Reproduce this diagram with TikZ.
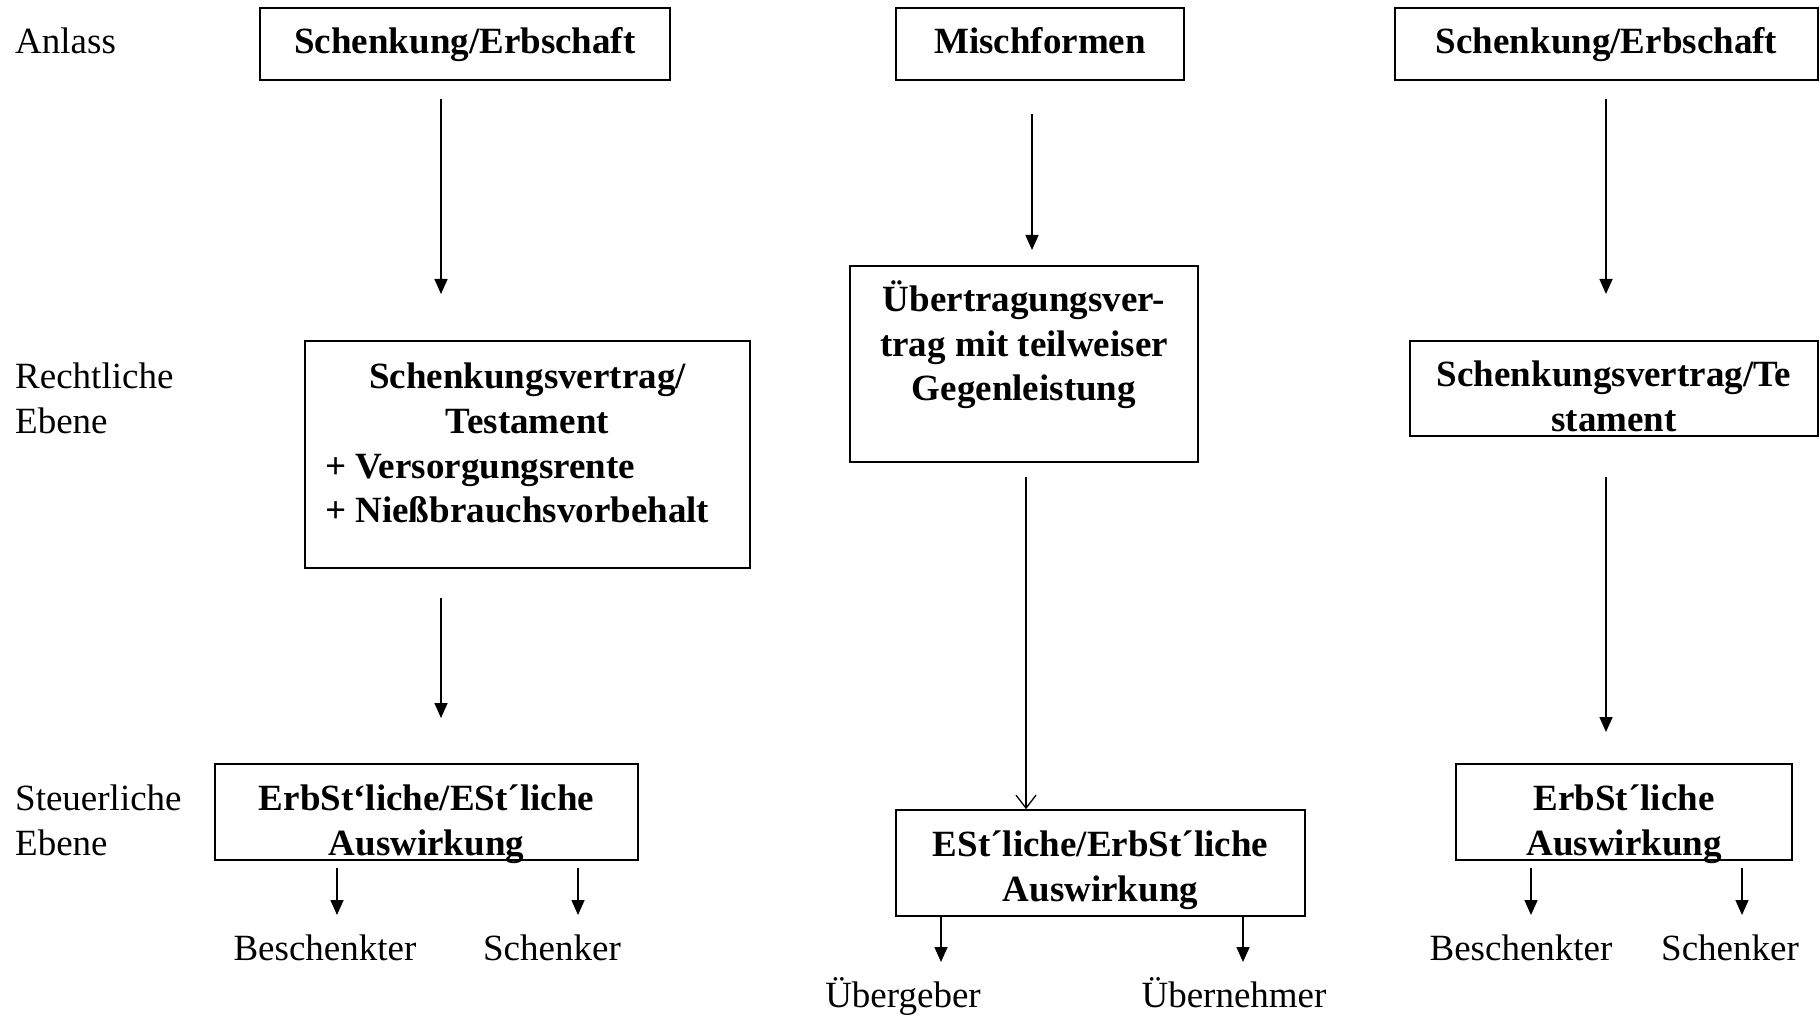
\documentclass[tikz,border=0pt]{standalone}
\usepackage{fontspec}
\setmainfont{Liberation Serif}
\usetikzlibrary{arrows.meta}
\begin{document}
\begin{tikzpicture}[x=1pt,y=-1pt,
  box/.style={draw, line width=1.6pt, inner sep=0pt},
  bt/.style={anchor=base, font=\fontsize{37}{42}\selectfont\bfseries, inner sep=0pt},
  btw/.style={anchor=base west, font=\fontsize{37}{42}\selectfont\bfseries, inner sep=0pt},
  pt/.style={anchor=base, font=\fontsize{37}{42}\selectfont, inner sep=0pt},
  ptw/.style={anchor=base west, font=\fontsize{37}{42}\selectfont, inner sep=0pt},
  arr/.style={line width=1.6pt, -{Triangle[length=15pt,width=13pt]}},
  arrv/.style={line width=1.3pt, -{Straight Barb[length=13pt,width=20pt]}}]
\useasboundingbox[fill=white] (0,0) rectangle (1820,1016);

% row labels
\node[ptw] (lAnlass) at (15,54) {Anlass};
\node[ptw] (lRecht1) at (15,388) {Rechtliche};
\node[ptw] (lRecht2) at (15,433) {Ebene};
\node[ptw] (lSteuer1) at (15,810) {Steuerliche};
\node[ptw] (lSteuer2) at (15,855) {Ebene};

% row 1
\node[box, minimum width=410, minimum height=72] (b1) at (465,44) {};
\node[bt] (t1) at (465,54) {Schenkung/Erbschaft};
\node[box, minimum width=288, minimum height=72] (b2) at (1040,44) {};
\node[bt] (t2) at (1040,54) {Mischformen};
\node[box, minimum width=423, minimum height=72] (b3) at (1606.5,44) {};
\node[bt] (t3) at (1606.5,54) {Schenkung/Erbschaft};

% row 2
\node[box, minimum width=445, minimum height=227] (r2L) at (527.5,454.5) {};
\node[bt] (r2La) at (527.5,388) {Schenkungsvertrag/};
\node[bt] (r2Lb) at (527.5,433) {Testament};
\node[btw] (r2Lc) at (325,478) {+ Versorgungsrente};
\node[btw] (r2Ld) at (325,522) {+ Nießbrauchsvorbehalt};

\node[box, minimum width=348, minimum height=196] (r2M) at (1024,364) {};
\node[bt] (r2Ma) at (1024,312) {Übertragungsver-};
\node[bt] (r2Mb) at (1024,356) {trag mit teilweiser};
\node[bt] (r2Mc) at (1024,400) {Gegenleistung};

\node[box, minimum width=408, minimum height=95] (r2R) at (1614,388.5) {};
\node[bt] (r2Ra) at (1614,386) {Schenkungsvertrag/Te};
\node[bt] (r2Rb) at (1614,431) {stament};

% row 3
\node[box, minimum width=423, minimum height=96] (r3L) at (426.5,812) {};
\node[bt] (r3La) at (426.5,810) {ErbSt‘liche/ESt´liche};
\node[bt] (r3Lb) at (426.5,855) {Auswirkung};

\node[box, minimum width=409, minimum height=106] (r3M) at (1100.5,863) {};
\node[bt] (r3Ma) at (1100.5,856) {ESt´liche/ErbSt´liche};
\node[bt] (r3Mb) at (1100.5,901) {Auswirkung};

\node[box, minimum width=336, minimum height=96] (r3R) at (1624,812) {};
\node[bt] (r3Ra) at (1624,810) {ErbSt´liche};
\node[bt] (r3Rb) at (1624,855) {Auswirkung};

% bottom labels
\node[pt] (oL1) at (325,960) {Beschenkter};
\node[pt] (oL2) at (552,960) {Schenker};
\node[pt] (oM1) at (903,1007) {Übergeber};
\node[pt] (oM2) at (1234,1007) {Übernehmer};
\node[pt] (oR1) at (1521,960) {Beschenkter};
\node[pt] (oR2) at (1730,960) {Schenker};

% arrow end points
\coordinate (a1s) at (441,99);   \coordinate (a1e) at (441,294);
\coordinate (a2s) at (1032,114); \coordinate (a2e) at (1032,250);
\coordinate (a3s) at (1606,99);  \coordinate (a3e) at (1606,294);
\coordinate (a4s) at (441,598);  \coordinate (a4e) at (441,718);
\coordinate (a5s) at (1026,477);
\coordinate (a6s) at (1606,477); \coordinate (a6e) at (1606,732);
\coordinate (s1s) at (337,868);  \coordinate (s1e) at (337,915);
\coordinate (s2s) at (578,868);  \coordinate (s2e) at (578,915);
\coordinate (s3s) at (941,916);  \coordinate (s3e) at (941,962);
\coordinate (s4s) at (1243,916); \coordinate (s4e) at (1243,962);
\coordinate (s5s) at (1531,868); \coordinate (s5e) at (1531,915);
\coordinate (s6s) at (1742,868); \coordinate (s6e) at (1742,915);

\draw[arr] (a1s) -- (a1e);
\draw[arr] (a2s) -- (a2e);
\draw[arr] (a3s) -- (a3e);
\draw[arr] (a4s) -- (a4e);
\draw[arrv] (a5s) -- (a5s |- r3M.north);
\draw[arr] (a6s) -- (a6e);
\draw[arr] (s1s) -- (s1e);
\draw[arr] (s2s) -- (s2e);
\draw[arr] (s3s |- r3M.south) -- (s3e);
\draw[arr] (s4s |- r3M.south) -- (s4e);
\draw[arr] (s5s) -- (s5e);
\draw[arr] (s6s) -- (s6e);
\end{tikzpicture}
\end{document}
